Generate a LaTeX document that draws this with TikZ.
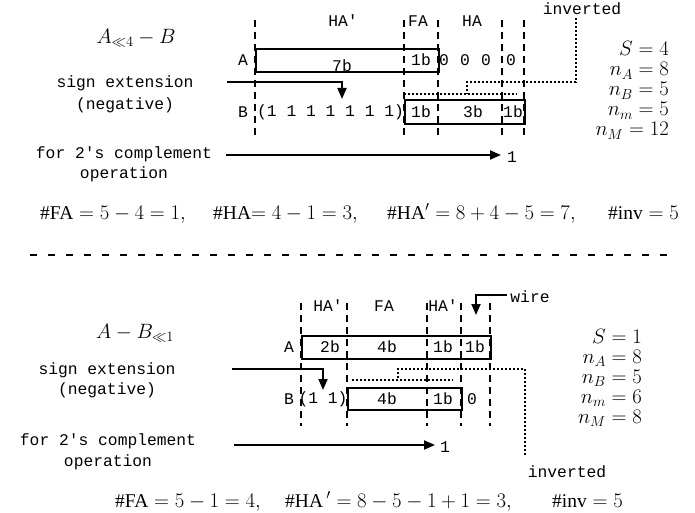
\documentclass[tikz,border=0pt]{standalone}
\usepackage{fontspec}
\setmainfont{Liberation Serif}
\newfontfamily\codefont{Liberation Mono}
\usetikzlibrary{arrows.meta}
\begin{document}
\begin{tikzpicture}[x=1pt,y=-1pt,
  mono/.style={font=\codefont\fontsize{16.3}{20}\selectfont, inner sep=0pt},
  mth/.style={font=\fontsize{19.5}{20}\selectfont, inner sep=0pt},
  guide/.style={line width=1.6pt, dash pattern=on 7pt off 5pt},
  field/.style={draw, line width=1.8pt, inner sep=0pt, anchor=north west},
  invline/.style={line width=1.4pt, dash pattern=on 2pt off 2pt},
  feed/.style={line width=1.8pt, -{Triangle[length=11pt,width=9pt]}},
  separator/.style={line width=1.6pt, dash pattern=on 7pt off 11pt}]
\useasboundingbox (0,0) rectangle (695,513);

% ---------------- upper case: A shifted by 4 minus B ----------------
\node[mth] (titleT) at (136,38) {$A_{\ll 4}-B$};
\node[mono, align=center, font=\codefont\fontsize{16.3}{22}\selectfont] (signT) at (125,94) {sign extension\\(negative)};
\node[mono, align=center] (compT) at (124,164) {for 2′s complement\\operation};

\node[field, minimum width=183pt, minimum height=23pt] (boxAT) at (255,48) {};
\node[field, minimum width=120pt, minimum height=24pt] (boxBT) at (404,99) {};

\foreach \gx in {255,404,438,502,524}
  \draw[guide] (\gx,20) -- (\gx,138);

\node[mono] (haPT) at (343,21) {HA′};
\node[mono] (faT) at (418,21) {FA};
\node[mono] (haT) at (472,21) {HA};
\node[mono] (invT) at (582,9) {inverted};

\node[mono] (labAT) at (243,60) {A};
\node[mono] (a7T) at (342,66) {7b};
\node[mono] (a1T) at (421,60) {1b};
\node[mono] (z1T) at (444,60) {0};
\node[mono] (z2T) at (465,60) {0};
\node[mono] (z3T) at (486,60) {0};
\node[mono] (z4T) at (511,60) {0};

\node[mono] (labBT) at (243,112) {B};
\node[mono, anchor=west] (extT) at (257,112) {(1 1 1 1 1 1 1)};
\node[mono] (b1T) at (421,112) {1b};
\node[mono] (b3T) at (473,112) {3b};
\node[mono] (b1rT) at (513,112) {1b};

% inverted wires of B
\coordinate (invTopT) at (576,18);
\coordinate (invTapT) at (467,82);
\coordinate (invJoinT) at (467,94);
\draw[invline] (invTopT) |- (invTapT) -- (invJoinT);
\draw[invline] (404,94) -- (517,94);

% sign extension and carry-in
\coordinate (signStartT) at (227,82);
\coordinate (signEndT) at (342,99);
\draw[feed] (signStartT) -| (signEndT);
\node[mono] (oneT) at (512,157) {1};
\coordinate (compStartT) at (226,155);
\draw[feed] (compStartT) -- (501,155);

\node[mth, anchor=base east] (sT) at (669,56) {$S=4$};
\node[mth, anchor=base east] (naT) at (669,76) {$n_A=8$};
\node[mth, anchor=base east] (nbT) at (669,96) {$n_B=5$};
\node[mth, anchor=base east] (nmT) at (669,116) {$n_m=5$};
\node[mth, anchor=base east] (nMT) at (669,136) {$n_M=12$};

\node[mth, anchor=base west] (cntFAT) at (40,219) {\#FA${}=5-4=1,$};
\node[mth, anchor=base west] (cntHAT) at (213,219) {\#HA$= 4-1=3,$};
\node[mth, anchor=base west] (cntHPT) at (387,219) {\#HA$'=8+4-5=7,$};
\node[mth, anchor=base west] (cntInvT) at (608,219) {\#inv${}=5$};

% ---------------- separator ----------------
\coordinate (sepL) at (30,255);
\coordinate (sepR) at (673,255);
\draw[separator] (sepL) -- (sepR);

% ---------------- lower case: A minus B shifted by 1 ----------------
\node[mth] (titleB) at (135,333) {$A-B_{\ll 1}$};
\node[mono, align=center] (signB) at (107,380.5) {sign extension\\(negative)};
\node[mono, align=center, font=\codefont\fontsize{16.3}{21}\selectfont] (compB) at (108,451.5) {for 2′s complement\\operation};

\node[field, minimum width=189pt, minimum height=23pt] (boxAB) at (301,335) {};
\node[field, minimum width=114pt, minimum height=22pt] (boxBB) at (347,387) {};

\foreach \gx in {301,347,427,461,490}
  \draw[guide] (\gx,303) -- (\gx,426);

\node[mono] (haPB) at (328,306) {HA′};
\node[mono] (faB) at (384,306) {FA};
\node[mono] (haPrB) at (443,306) {HA′};
\node[mono] (wireB) at (530,297) {wire};
\node[mono] (invB) at (567,472) {inverted};

\node[mono] (labAB) at (289,347) {A};
\node[mono] (a2B) at (330,347) {2b};
\node[mono] (a4B) at (387,347) {4b};
\node[mono] (a1B) at (443,347) {1b};
\node[mono] (a1rB) at (475,347) {1b};

\node[mono] (labBB) at (289,399) {B};
\node[mono] (extB) at (323,399) {(1 1)};
\node[mono] (b4B) at (387,399) {4b};
\node[mono] (b1B) at (443,399) {1b};
\node[mono] (zB) at (472,399) {0};

% inverted wires of B
\coordinate (invBotB) at (525,455);
\coordinate (invTapB) at (398,369);
\coordinate (invJoinB) at (398,380);
\draw[invline] (invBotB) |- (invTapB) -- (invJoinB);
\draw[invline] (352,380) -- (453,380);

% wire, sign extension and carry-in
\coordinate (wireStart) at (507,295);
\coordinate (wireEnd) at (476,315);
\draw[feed] (wireStart) -| (wireEnd);
\coordinate (signStartB) at (232,369);
\coordinate (signEndB) at (323,390);
\draw[feed] (signStartB) -| (signEndB);
\node[mono] (oneB) at (445,447) {1};
\coordinate (compStartB) at (234,445);
\draw[feed] (compStartB) -- (435,445);

\node[mth, anchor=base east] (sB) at (642,343) {$S=1$};
\node[mth, anchor=base east] (naB) at (642,363) {$n_A=8$};
\node[mth, anchor=base east] (nbB) at (642,383) {$n_B=5$};
\node[mth, anchor=base east] (nmB) at (642,403) {$n_m=6$};
\node[mth, anchor=base east] (nMB) at (642,423) {$n_M=8$};

\node[mth, anchor=base west] (cntFAB) at (115,507) {\#FA${}=5-1=4,$};
\node[mth, anchor=base west] (cntHPB) at (285,507) {\#HA\,$'=8-5-1+1=3,$};
\node[mth, anchor=base west] (cntInvB) at (552,507) {\#inv${}=5$};
\end{tikzpicture}
\end{document}
